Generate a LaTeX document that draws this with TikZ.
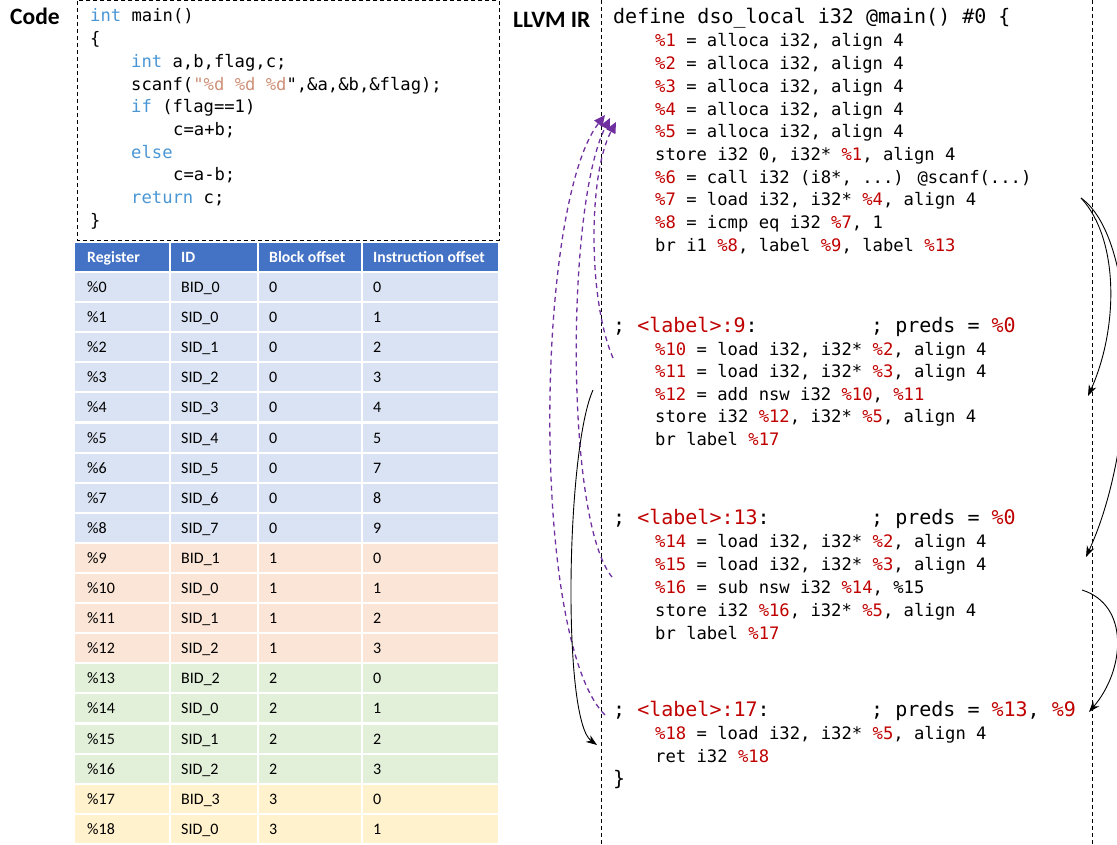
\documentclass[tikz,border=0pt]{standalone}
\usepackage{fontspec}
\setmainfont{Carlito}
\newfontfamily\mono{DejaVu Sans Mono}
\usetikzlibrary{arrows.meta}

\definecolor{irred}{HTML}{C00000}
\definecolor{kwblue}{HTML}{4A96D4}
\definecolor{strorange}{HTML}{CE9178}
\definecolor{depviolet}{HTML}{7030A0}
\definecolor{headblue}{HTML}{4472C4}
\definecolor{rowblue}{HTML}{DAE3F3}
\definecolor{roworange}{HTML}{FBE5D6}
\definecolor{rowgreen}{HTML}{E2F0D9}
\definecolor{rowyellow}{HTML}{FFF2CC}

\newcommand\irr[1]{\textcolor{irred}{#1}}
\newcommand\kw[1]{\textcolor{kwblue}{#1}}
\newcommand\str[1]{\textcolor{strorange}{#1}}

\tikzset{
  codeline/.style={anchor=base west, inner sep=0pt, font=\mono\fontsize{17.2}{20}\selectfont},
  irhead/.style={anchor=base west, inner sep=0pt, font=\mono\fontsize{20}{24}\selectfont},
  title/.style={anchor=base west, inner sep=0pt, font=\bfseries\fontsize{23.5}{28}\selectfont},
  cell/.style={anchor=base west, inner sep=0pt, font=\fontsize{16}{18}\selectfont},
  headcell/.style={anchor=base west, inner sep=0pt, text=white, font=\bfseries\fontsize{15.7}{18}\selectfont},
  border/.style={draw=black, line width=0.9pt, dash pattern=on 4pt off 3pt},
  dep/.style={draw=depviolet, line width=1.3pt, dash pattern=on 5pt off 4pt,
    -{Triangle[length=11pt,width=10pt]}},
  flow/.style={draw=black, line width=0.9pt, -{Stealth[length=11pt,width=8pt]}}
}

\begin{document}
\begin{tikzpicture}[x=1pt,y=-1pt]
\useasboundingbox (0,0) rectangle (1117,845);

% ---------- section titles ----------
\node[title] (codetitle) at (10,25) {Code};
\node[title] (irtitle) at (513,28) {LLVM IR};

% ---------- C source ----------
\draw[border] (77,0.8) rectangle (499,240);
\node[codeline] (c1) at (90,22) {\kw{int} main()};
\node[codeline] (c2) at (90,44.7) {\{};
\node[codeline] (c3) at (131,67.4) {\kw{int} a,b,flag,c;};
\node[codeline] (c4) at (131,90.1) {scanf(\str{"\%d \%d \%d}",\&a,\&b,\&flag);};
\node[codeline] (c5) at (131,112.8) {\kw{if} (flag==1)};
\node[codeline] (c6) at (173,135.5) {c=a+b;};
\node[codeline] (c7) at (131,158.2) {\kw{else}};
\node[codeline] (c8) at (173,180.9) {c=a-b;};
\node[codeline] (c9) at (131,203.6) {\kw{return} c;};
\node[codeline] (c10) at (90,226.3) {\}};

% ---------- register table ----------
\fill[headblue] (75,243) rectangle (169,271);
\fill[headblue] (171,243) rectangle (257,271);
\fill[headblue] (259,243) rectangle (361,271);
\fill[headblue] (363,243) rectangle (498,271);
\node[headcell] (hreg) at (87,262) {Register};
\node[headcell] (hid) at (181,262) {ID};
\node[headcell] (hblk) at (269,262) {Block offset};
\node[headcell] (hins) at (373,262) {Instruction offset};

\foreach \rg/\id/\bo/\io/\col [count=\i from 0] in {
  \%0/BID\_0/0/0/rowblue,
  \%1/SID\_0/0/1/rowblue,
  \%2/SID\_1/0/2/rowblue,
  \%3/SID\_2/0/3/rowblue,
  \%4/SID\_3/0/4/rowblue,
  \%5/SID\_4/0/5/rowblue,
  \%6/SID\_5/0/7/rowblue,
  \%7/SID\_6/0/8/rowblue,
  \%8/SID\_7/0/9/rowblue,
  \%9/BID\_1/1/0/roworange,
  \%10/SID\_0/1/1/roworange,
  \%11/SID\_1/1/2/roworange,
  \%12/SID\_2/1/3/roworange,
  \%13/BID\_2/2/0/rowgreen,
  \%14/SID\_0/2/1/rowgreen,
  \%15/SID\_1/2/2/rowgreen,
  \%16/SID\_2/2/3/rowgreen,
  \%17/BID\_3/3/0/rowyellow,
  \%18/SID\_0/3/1/rowyellow}
{
  \pgfmathsetmacro\rowtop{273+30.1*\i}
  \fill[\col] (75,\rowtop) rectangle (169,\rowtop+28);
  \fill[\col] (171,\rowtop) rectangle (257,\rowtop+28);
  \fill[\col] (259,\rowtop) rectangle (361,\rowtop+28);
  \fill[\col] (363,\rowtop) rectangle (498,\rowtop+28);
  \node[cell] (reg\i) at (87,\rowtop+19.5) {\rg};
  \node[cell] (id\i) at (181,\rowtop+19.5) {\id};
  \node[cell] (blk\i) at (269,\rowtop+19.5) {\bo};
  \node[cell] (ins\i) at (373,\rowtop+19.5) {\io};
}

% ---------- IR frame ----------
\draw[border] (601,0) -- (601,845);
\draw[border] (1092,0) -- (1092,845);

% ---------- IR: entry block ----------
\node[irhead] (def) at (613,24) {define dso\_local i32 @main() \#0 \{};
\node[codeline] (i1) at (655,47) {\irr{\%1} = alloca i32, align 4};
\node[codeline] (i2) at (655,69.7) {\irr{\%2} = alloca i32, align 4};
\node[codeline] (i3) at (655,92.4) {\irr{\%3} = alloca i32, align 4};
\node[codeline] (i4) at (655,115.1) {\irr{\%4} = alloca i32, align 4};
\node[codeline] (i5) at (655,137.8) {\irr{\%5} = alloca i32, align 4};
\node[codeline] (st0) at (655,160.5) {store i32 0, i32* \irr{\%1}, align 4};
\node[codeline] (i6) at (655,183.2) {\irr{\%6} = call i32 (i8*, ...) @scanf(...)};
\node[codeline] (i7) at (655,205.9) {\irr{\%7} = load i32, i32* \irr{\%4}, align 4};
\node[codeline] (i8) at (655,228.6) {\irr{\%8} = icmp eq i32 \irr{\%7}, 1};
\node[codeline] (br0) at (655,251.3) {br i1 \irr{\%8}, label \irr{\%9}, label \irr{\%13}};

% ---------- IR: block 9 ----------
\node[irhead] (lab9) at (613,332) {; \irr{<label>:9}:};
\node[irhead] (pred9) at (871,332) {; preds = \irr{\%0}};
\node[codeline] (i10) at (655,355) {\irr{\%10} = load i32, i32* \irr{\%2}, align 4};
\node[codeline] (i11) at (655,377.5) {\irr{\%11} = load i32, i32* \irr{\%3}, align 4};
\node[codeline] (i12) at (655,400) {\irr{\%12} = add nsw i32 \irr{\%10}, \irr{\%11}};
\node[codeline] (st9) at (655,422.5) {store i32 \irr{\%12}, i32* \irr{\%5}, align 4};
\node[codeline] (br9) at (655,445) {br label \irr{\%17}};

% ---------- IR: block 13 ----------
\node[irhead] (lab13) at (613,524) {; \irr{<label>:13}:};
\node[irhead] (pred13) at (871,524) {; preds = \irr{\%0}};
\node[codeline] (i14) at (655,547) {\irr{\%14} = load i32, i32* \irr{\%2}, align 4};
\node[codeline] (i15) at (655,570) {\irr{\%15} = load i32, i32* \irr{\%3}, align 4};
\node[codeline] (i16) at (655,593) {\irr{\%16} = sub nsw i32 \irr{\%14}, \%15};
\node[codeline] (st13) at (655,616) {store i32 \irr{\%16}, i32* \irr{\%5}, align 4};
\node[codeline] (br13) at (655,639) {br label \irr{\%17}};

% ---------- IR: block 17 ----------
\node[irhead] (lab17) at (613,716) {; \irr{<label>:17}:};
\node[irhead] (pred17) at (871,716) {; preds = \irr{\%13}, \irr{\%9}};
\node[codeline] (i18) at (655,739) {\irr{\%18} = load i32, i32* \irr{\%5}, align 4};
\node[codeline] (ret) at (655,762) {ret i32 \irr{\%18}};
\node[irhead] (close) at (613,785) {\}};

% ---------- memory dependences (loads back to allocas) ----------
\coordinate (useA) at (613,358);
\coordinate (useB) at (612,577);
\coordinate (useC) at (605,715);
\coordinate (defA) at (616,122);
\coordinate (defB) at (610,118);
\coordinate (defC) at (605,115);
\draw[dep] (useA) .. controls (588,300) and (588,175) .. (defA);
\draw[dep] (useB) .. controls (565,520) and (566,205) .. (defB);
\draw[dep] (useC) .. controls (530,640) and (535,205) .. (defC);

% ---------- control flow ----------
\coordinate (brOut) at (1081,198);
\coordinate (to9) at (1088,396);
\coordinate (to13) at (1086,557);
\coordinate (out13) at (1082,590);
\coordinate (to17r) at (1089,712);
\coordinate (out9) at (593,390);
\coordinate (to17l) at (597,745);
\draw[flow] (brOut) .. controls (1120,240) and (1118,330) .. (to9);
\draw[flow] (brOut) .. controls (1140,240) and (1140,440) .. (to13);
\draw[flow] (out13) .. controls (1130,605) and (1125,670) .. (to17r);
\draw[flow] (out9) .. controls (566,450) and (562,720) .. (to17l);

\end{tikzpicture}
\end{document}
